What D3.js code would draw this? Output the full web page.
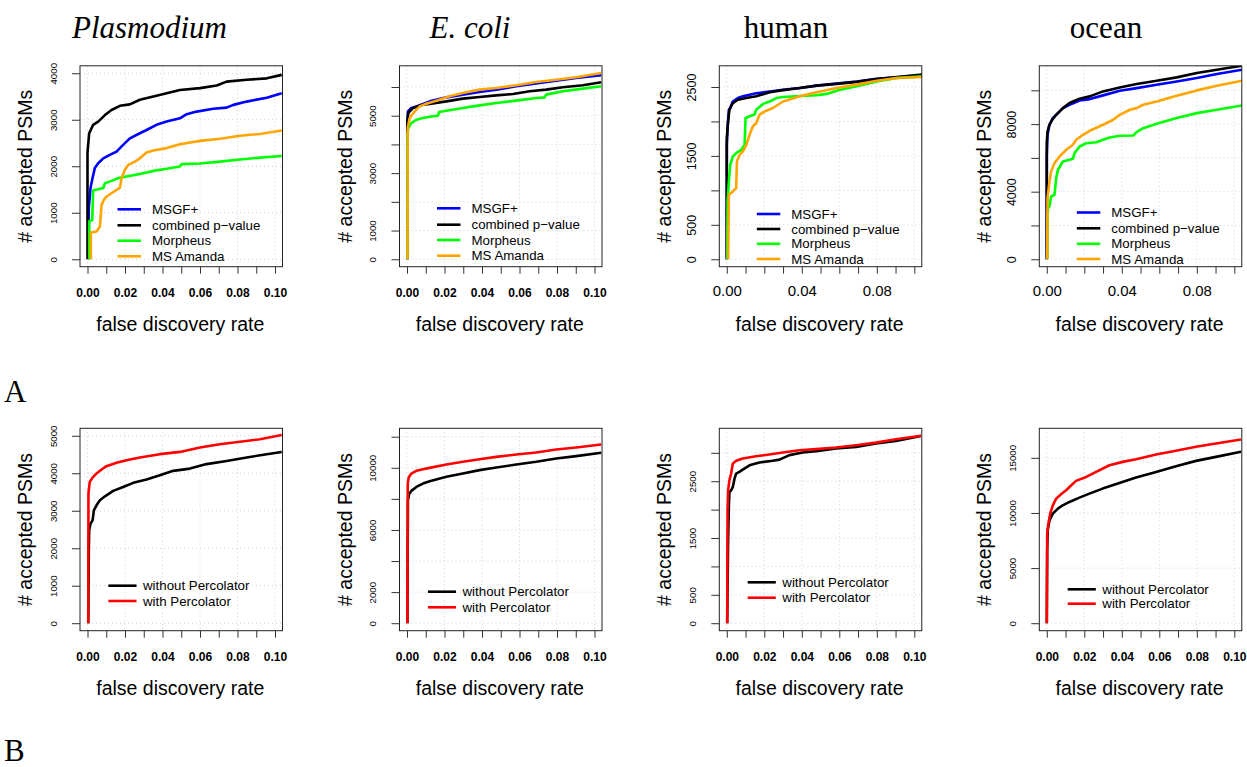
<!DOCTYPE html>
<html>
<head>
<meta charset="utf-8">
<script src="https://cdn.jsdelivr.net/npm/d3@7"></script>
<style>
  body { margin: 0; background: #fff; }
  svg { display: block; }
  text { font-family: "Liberation Sans", Arial, sans-serif; fill: #000; }
</style>
</head>
<body>
<svg id="fig" width="1247" height="767"></svg>
<script>
// ---- data: [false discovery rate, accepted PSMs] ----
// Row A: search engines vs. combined p-value
const plasmoMsgf = [[0.0007,0],[0.0007,1100],[0.0016,1530],[0.0027,1745],[0.0039,1960],[0.0057,2065],[0.0084,2170],[0.0119,2245],[0.0155,2315],[0.019,2460],[0.0226,2600],[0.0279,2710],[0.0315,2780],[0.0368,2890],[0.0422,2960],[0.0493,3030],[0.0529,3120],[0.0582,3175],[0.0671,3235],[0.0742,3260],[0.0778,3320],[0.0849,3390],[0.0956,3475],[0.1036,3570]];
const plasmoCombined = [[0,0],[0,2300],[0.0009,2710],[0.003,2890],[0.0057,2960],[0.0093,3100],[0.0128,3210],[0.0173,3300],[0.0226,3330],[0.0279,3430],[0.0351,3500],[0.0422,3570],[0.0493,3640],[0.06,3680],[0.0689,3735],[0.0742,3820],[0.0849,3860],[0.0956,3890],[0.1036,3965]];
const plasmoMorpheus = [[0.0009,0],[0.0009,810],[0.0012,830],[0.0025,840],[0.003,1480],[0.0084,1530],[0.0093,1635],[0.0128,1685],[0.0164,1745],[0.0208,1780],[0.0279,1835],[0.0351,1900],[0.0422,1945],[0.0493,1995],[0.0502,2045],[0.06,2060],[0.0707,2100],[0.0813,2145],[0.092,2185],[0.1036,2220]];
const plasmoAmanda = [[0.0018,0],[0.0018,575],[0.0048,595],[0.0066,700],[0.0075,1170],[0.0087,1275],[0.0101,1350],[0.0128,1420],[0.0155,1490],[0.0173,1540],[0.0182,1745],[0.0199,1920],[0.0217,2030],[0.0253,2100],[0.0279,2170],[0.0315,2295],[0.0351,2340],[0.0422,2390],[0.0493,2475],[0.06,2545],[0.0707,2590],[0.0813,2655],[0.092,2695],[0.1036,2770]];

const ecoliMsgf = [[0.0002,0],[0.0002,4800],[0.0005,5150],[0.0023,5270],[0.005,5325],[0.0121,5500],[0.021,5640],[0.0298,5735],[0.0387,5825],[0.0476,5910],[0.0583,6025],[0.0689,6120],[0.0796,6220],[0.0902,6315],[0.1036,6410]];
const ecoliCombined = [[0.0002,0],[0.0002,4800],[0.0007,5095],[0.0032,5270],[0.0085,5385],[0.0121,5410],[0.021,5500],[0.0298,5595],[0.0387,5650],[0.0476,5710],[0.0565,5755],[0.0654,5850],[0.0742,5910],[0.0831,5990],[0.0938,6060],[0.1036,6165]];
const ecoliMorpheus = [[0.0002,0],[0.0002,4340],[0.0007,4570],[0.0023,4745],[0.005,4860],[0.0085,4920],[0.0139,4980],[0.0165,5000],[0.0171,5130],[0.021,5175],[0.0298,5270],[0.0387,5360],[0.0476,5445],[0.0583,5525],[0.0689,5615],[0.0734,5640],[0.0742,5735],[0.0831,5850],[0.0938,5945],[0.1036,6025]];
const ecoliAmanda = [[0.0003,0],[0.0004,4570],[0.0014,4920],[0.0041,5150],[0.0067,5325],[0.0103,5420],[0.0156,5525],[0.0227,5675],[0.0298,5790],[0.0387,5910],[0.0476,5965],[0.0583,6060],[0.0689,6175],[0.0796,6255],[0.0902,6340],[0.1036,6490]];

const humanMsgf = [[0,0],[0,1660],[0.0005,1950],[0.0011,2170],[0.0018,2195],[0.0032,2290],[0.0059,2340],[0.0086,2365],[0.0157,2410],[0.0229,2435],[0.03,2460],[0.0389,2485],[0.0479,2520],[0.0586,2550],[0.0693,2580],[0.08,2620],[0.0907,2640],[0.1041,2670]];
const humanCombined = [[0,0],[0,1760],[0.0007,2000],[0.0014,2170],[0.0032,2265],[0.0059,2315],[0.0104,2340],[0.0157,2365],[0.0229,2425],[0.03,2455],[0.0389,2485],[0.0479,2520],[0.0586,2545],[0.0693,2575],[0.08,2615],[0.0907,2645],[0.1041,2680]];
const humanMorpheus = [[0.0002,0],[0.0004,840],[0.0011,1130],[0.0018,1370],[0.0032,1490],[0.005,1540],[0.0077,1590],[0.0095,1660],[0.01,2050],[0.0121,2075],[0.0148,2100],[0.0157,2170],[0.0193,2255],[0.0229,2290],[0.0264,2340],[0.03,2355],[0.0389,2370],[0.0479,2380],[0.0532,2400],[0.0604,2460],[0.0693,2510],[0.08,2580],[0.0907,2630],[0.1041,2655]];
const humanAmanda = [[0.0007,0],[0.0011,935],[0.0032,985],[0.005,1030],[0.0054,1420],[0.0068,1515],[0.0086,1565],[0.0104,1660],[0.0121,1805],[0.0139,1930],[0.0157,1975],[0.0175,2100],[0.0202,2145],[0.0246,2195],[0.03,2290],[0.0389,2365],[0.0479,2425],[0.0586,2485],[0.0693,2535],[0.08,2590],[0.0907,2630],[0.1041,2645]];

const oceanMsgf = [[0,0],[0,6180],[0.0004,7365],[0.0014,7960],[0.0032,8355],[0.0059,8650],[0.0086,8945],[0.0121,9145],[0.0175,9400],[0.0229,9480],[0.03,9700],[0.0389,9975],[0.0479,10130],[0.0586,10330],[0.0693,10525],[0.08,10725],[0.0907,10960],[0.1041,11220]];
const oceanCombined = [[0,0],[0,6970],[0.0004,7565],[0.0014,7960],[0.0029,8255],[0.005,8550],[0.0086,8945],[0.0121,9245],[0.0175,9500],[0.0229,9640],[0.03,9935],[0.0389,10170],[0.0479,10370],[0.0586,10565],[0.0693,10765],[0.08,11020],[0.0907,11220],[0.1041,11455]];
const oceanMorpheus = [[0.0002,0],[0.0004,2630],[0.0009,3220],[0.0014,3120],[0.0023,3715],[0.0041,3810],[0.005,4800],[0.0059,5290],[0.0086,5785],[0.0121,5885],[0.0139,5945],[0.0148,6280],[0.0175,6675],[0.0211,6870],[0.0264,6930],[0.03,7070],[0.0336,7210],[0.0389,7310],[0.0461,7325],[0.0479,7525],[0.0514,7760],[0.0586,8020],[0.0693,8355],[0.08,8650],[0.0907,8850],[0.1041,9105]];
const oceanAmanda = [[0.0002,0],[0.0004,3615],[0.0014,4600],[0.0023,5195],[0.0041,5690],[0.0068,6085],[0.0104,6480],[0.0139,6775],[0.0157,7070],[0.0193,7365],[0.0229,7605],[0.03,7960],[0.0354,8255],[0.0389,8550],[0.0443,8850],[0.0479,8945],[0.0514,9145],[0.0586,9340],[0.0693,9680],[0.08,9995],[0.0907,10270],[0.1041,10565]];

// Row B: without vs. with Percolator
const plasmoNoPerc = [[0.0004,0],[0.0007,1945],[0.0009,2480],[0.0016,2655],[0.0027,2745],[0.0034,3010],[0.0048,3145],[0.0066,3280],[0.0093,3385],[0.0137,3530],[0.019,3635],[0.0244,3745],[0.0315,3835],[0.0386,3950],[0.0457,4065],[0.0546,4125],[0.0635,4245],[0.0742,4330],[0.0849,4420],[0.0956,4510],[0.1036,4570]];
const plasmoPerc = [[0.0004,0],[0.0005,3460],[0.0012,3770],[0.0027,3885],[0.0048,3995],[0.0075,4100],[0.0101,4190],[0.0155,4280],[0.0208,4350],[0.0279,4420],[0.0386,4510],[0.0493,4570],[0.06,4690],[0.0706,4775],[0.0813,4840],[0.092,4910],[0.1036,5020]];
const ecoliNoPerc = [[0.0002,0],[0.0005,7910],[0.0011,8300],[0.0023,8515],[0.005,8770],[0.0085,8985],[0.0121,9140],[0.021,9420],[0.0298,9630],[0.0387,9850],[0.0476,10020],[0.0583,10210],[0.0689,10385],[0.0796,10600],[0.0902,10750],[0.1036,10965]];
const ecoliPerc = [[0.0002,0],[0.0004,8985],[0.0009,9375],[0.0023,9630],[0.005,9805],[0.0085,9910],[0.0121,9995],[0.021,10210],[0.0298,10385],[0.0387,10555],[0.0476,10705],[0.0583,10860],[0.0689,10985],[0.0796,11180],[0.0902,11310],[0.1036,11500]];
const humanNoPerc = [[0.0002,0],[0.0007,1460],[0.0011,2045],[0.0014,2310],[0.0023,2340],[0.0032,2400],[0.0041,2545],[0.005,2635],[0.0067,2665],[0.0085,2705],[0.0121,2780],[0.0174,2830],[0.0245,2860],[0.0281,2880],[0.0334,2960],[0.0405,3005],[0.0476,3030],[0.0583,3075],[0.0689,3105],[0.0796,3165],[0.0902,3210],[0.1036,3295]];
const humanPerc = [[0.0002,0],[0.0004,1990],[0.0007,2340],[0.0014,2520],[0.0023,2635],[0.0032,2810],[0.005,2860],[0.0085,2900],[0.0156,2940],[0.0227,2970],[0.0298,3005],[0.0387,3045],[0.0476,3065],[0.0583,3095],[0.0689,3135],[0.0796,3180],[0.0902,3240],[0.1036,3300]];
const oceanNoPerc = [[0,0],[0.0002,6605],[0.0005,8425],[0.0014,9330],[0.0032,9940],[0.0059,10390],[0.0085,10695],[0.0121,11000],[0.0174,11390],[0.0227,11755],[0.0298,12210],[0.0387,12725],[0.0476,13210],[0.0583,13725],[0.0689,14240],[0.0796,14725],[0.0902,15090],[0.1036,15545]];
const oceanPerc = [[0,0],[0.0002,8120],[0.0007,8880],[0.0018,9940],[0.0032,10695],[0.005,11300],[0.0076,11695],[0.0103,12060],[0.0121,12360],[0.0156,12910],[0.021,13270],[0.0263,13725],[0.0334,14330],[0.0405,14635],[0.0476,14875],[0.0583,15300],[0.0689,15635],[0.0796,16000],[0.0902,16300],[0.1036,16665]];

// ---- series names, titles and tick labels ----
const engineNames = ["MSGF+", "combined p\u2212value", "Morpheus", "MS Amanda"];
const percolatorNames = ["without Percolator", "with Percolator"];
const datasetTitles = ["Plasmodium", "E. coli", "human", "ocean"];
const rowLetters = ["A", "B"];
const xAxisTitle = "false discovery rate";
const yAxisTitle = "# accepted PSMs";

const fdrTickValues = [0, 0.01, 0.02, 0.03, 0.04, 0.05, 0.06, 0.07, 0.08, 0.09, 0.1];
const fdrGridValues = [0, 0.02, 0.04, 0.06, 0.08, 0.1];
const fdrLabelsFine = [0, 0.02, 0.04, 0.06, 0.08, 0.1];
const fdrLabelsCoarse = [0, 0.04, 0.08];

// y-axis upper limits (data range) per panel, row A then row B
const yUpperA = [4000, 6480, 2700, 11010];
const yUpperB = [5000, 12060, 3300, 17000];

const yTicksA = [
  [0, 1000, 2000, 3000, 4000],
  [0, 1000, 2000, 3000, 4000, 5000, 6000],
  [0, 500, 1000, 1500, 2000, 2500],
  [0, 2000, 4000, 6000, 8000, 10000]
];
const yLabelsA = [
  [0, 1000, 2000, 3000, 4000],
  [0, 1000, 3000, 5000],
  [0, 500, 1500, 2500],
  [0, 4000, 8000]
];
const yTicksB = [
  [0, 1000, 2000, 3000, 4000, 5000],
  [0, 2000, 4000, 6000, 8000, 10000, 12000],
  [0, 500, 1000, 1500, 2000, 2500, 3000],
  [0, 5000, 10000, 15000]
];
const yLabelsB = [
  [0, 1000, 2000, 3000, 4000, 5000],
  [0, 2000, 6000, 10000],
  [0, 500, 1500, 2500],
  [0, 5000, 10000, 15000]
];

const engineColors = ["#0000ff", "#000000", "#00ff00", "#ffa500"];
const percolatorColors = ["#000000", "#ff0000"];

// ---- layout ----
const svg = d3.select("#fig");
const colLeft = [80, 399.5, 719.3, 1039.3];
const boxW = 202.5;
const rowTop = [65.8, 428.3];
const rowBottom = [266.7, 630.7];
const titleX = [149.5, 470, 786, 1106];
const legendRowsA = [[209.3, 225.3, 240.7, 256.3], [208.3, 224.7, 240, 255.7], [214, 229, 243.8, 259], [212.5, 228.3, 243.8, 259]];
const legendRowsB = [[585.7, 601], [591.7, 607.3], [582.3, 597.7], [589.3, 603.7]];

const panels = [];
const seriesA = [
  [plasmoMsgf, plasmoCombined, plasmoMorpheus, plasmoAmanda],
  [ecoliMsgf, ecoliCombined, ecoliMorpheus, ecoliAmanda],
  [humanMsgf, humanCombined, humanMorpheus, humanAmanda],
  [oceanMsgf, oceanCombined, oceanMorpheus, oceanAmanda]
];
const seriesB = [
  [plasmoNoPerc, plasmoPerc],
  [ecoliNoPerc, ecoliPerc],
  [humanNoPerc, humanPerc],
  [oceanNoPerc, oceanPerc]
];
for (let c = 0; c < 4; c++) {
  panels.push({
    row: 0, col: c, yUpper: yUpperA[c], yTicks: yTicksA[c], yLabels: yLabelsA[c],
    series: seriesA[c], names: engineNames, colors: engineColors,
    large: c >= 2, legendRows: legendRowsA[c], legendLine: [37.5, 61], legendText: 72
  });
}
for (let c = 0; c < 4; c++) {
  panels.push({
    row: 1, col: c, yUpper: yUpperB[c], yTicks: yTicksB[c], yLabels: yLabelsB[c],
    series: seriesB[c], names: percolatorNames, colors: percolatorColors,
    large: false, legendRows: legendRowsB[c], legendLine: [28.4, 56.5], legendText: 63
  });
}

const defs = svg.append("defs");

panels.forEach((p, i) => {
  const left = colLeft[p.col], right = left + boxW;
  const top = rowTop[p.row], bottom = rowBottom[p.row];

  // R-style 4% padding on both axes
  const x = d3.scaleLinear().domain([-0.004, 0.104]).range([left, right]);
  const yPad = p.yUpper * 0.04;
  const y = d3.scaleLinear().domain([-yPad, p.yUpper + yPad]).range([bottom, top]);

  const g = svg.append("g");

  // dotted background grid
  g.append("g").selectAll("line").data(fdrGridValues).join("line")
    .attr("x1", d => x(d)).attr("x2", d => x(d))
    .attr("y1", top).attr("y2", bottom)
    .attr("stroke", "#d3d3d3").attr("stroke-width", 1).attr("stroke-dasharray", "1,3");
  g.append("g").selectAll("line").data(p.yTicks).join("line")
    .attr("x1", left).attr("x2", right)
    .attr("y1", d => y(d)).attr("y2", d => y(d))
    .attr("stroke", "#d3d3d3").attr("stroke-width", 1).attr("stroke-dasharray", "1,3");

  // curves, clipped to the plotting region
  const clipId = "clip" + i;
  defs.append("clipPath").attr("id", clipId)
    .append("rect").attr("x", left).attr("y", top).attr("width", boxW).attr("height", bottom - top);
  const line = d3.line().x(d => x(d[0])).y(d => y(d[1]));
  const curves = g.append("g").attr("clip-path", `url(#${clipId})`);
  p.series.forEach((s, k) => {
    curves.append("path").datum(s)
      .attr("d", line)
      .attr("fill", "none")
      .attr("stroke", p.colors[k])
      .attr("stroke-width", 2.6)
      .attr("stroke-linejoin", "round");
  });

  // frame
  g.append("rect").attr("x", left).attr("y", top).attr("width", boxW).attr("height", bottom - top)
    .attr("fill", "none").attr("stroke", "#222").attr("stroke-width", 1);

  // x axis
  const xFmt = d3.format(".2f");
  const xLabels = p.large ? fdrLabelsCoarse : fdrLabelsFine;
  const xAxis = d3.axisBottom(x).tickValues(fdrTickValues).tickSize(7).tickSizeOuter(0)
    .tickFormat(d => xLabels.some(v => Math.abs(v - d) < 1e-9) ? xFmt(d) : "");
  const xg = g.append("g").attr("transform", `translate(0,${bottom})`).call(xAxis);
  xg.select(".domain").remove();
  xg.selectAll(".tick line").attr("stroke", "#333");
  xg.selectAll(".tick text")
    .attr("y", p.large ? 22 : 24)
    .attr("dy", "0.5em")
    .style("font-size", p.large ? "15px" : "12px")
    .style("font-weight", p.large ? "normal" : "bold")
    .style("font-family", "'Liberation Sans', Arial, sans-serif");

  // y axis: labels rotated, R style
  const yAxis = d3.axisLeft(y).tickValues(p.yTicks).tickSize(8).tickSizeOuter(0)
    .tickFormat(d => p.yLabels.includes(d) ? String(d) : "");
  const yg = g.append("g").attr("transform", `translate(${left},0)`).call(yAxis);
  yg.select(".domain").remove();
  yg.selectAll(".tick line").attr("stroke", "#333");
  yg.selectAll(".tick text")
    .attr("x", null).attr("dy", null)
    .attr("text-anchor", "middle")
    .attr("dominant-baseline", "central")
    .attr("transform", "translate(-27,0) rotate(-90)")
    .style("font-size", p.large ? "12.5px" : "9.7px")
    .style("font-family", "'Liberation Sans', Arial, sans-serif");

  // axis titles
  g.append("text")
    .attr("x", (left + right) / 2 - 1).attr("y", bottom + 57)
    .attr("text-anchor", "middle").attr("dominant-baseline", "central")
    .style("font-size", "19.5px")
    .text(xAxisTitle);
  g.append("text")
    .attr("transform", `translate(${left - 55},${(top + bottom) / 2}) rotate(-90)`)
    .attr("text-anchor", "middle").attr("dominant-baseline", "central")
    .style("font-size", "19.5px")
    .text(yAxisTitle);

  // legend
  const lg = g.append("g");
  p.names.forEach((name, k) => {
    const ly = p.legendRows[k];
    lg.append("line")
      .attr("x1", left + p.legendLine[0]).attr("x2", left + p.legendLine[1])
      .attr("y1", ly).attr("y2", ly)
      .attr("stroke", p.colors[k]).attr("stroke-width", 2.6);
    lg.append("text")
      .attr("x", left + p.legendText).attr("y", ly)
      .attr("dominant-baseline", "central")
      .style("font-size", "13.3px")
      .text(name);
  });
});

// dataset titles
svg.append("g").selectAll("text").data(datasetTitles).join("text")
  .attr("x", (d, i) => titleX[i]).attr("y", 38)
  .attr("text-anchor", "middle")
  .style("font-family", "'Liberation Serif', 'Times New Roman', serif")
  .style("font-style", (d, i) => i < 2 ? "italic" : "normal")
  .style("font-size", "31px")
  .text(d => d);

// row letters
svg.append("g").selectAll("text").data(rowLetters).join("text")
  .attr("x", 4).attr("y", (d, i) => i === 0 ? 402 : 761)
  .style("font-family", "'Liberation Serif', 'Times New Roman', serif")
  .style("font-size", "31px")
  .text(d => d);
</script>
</body>
</html>
